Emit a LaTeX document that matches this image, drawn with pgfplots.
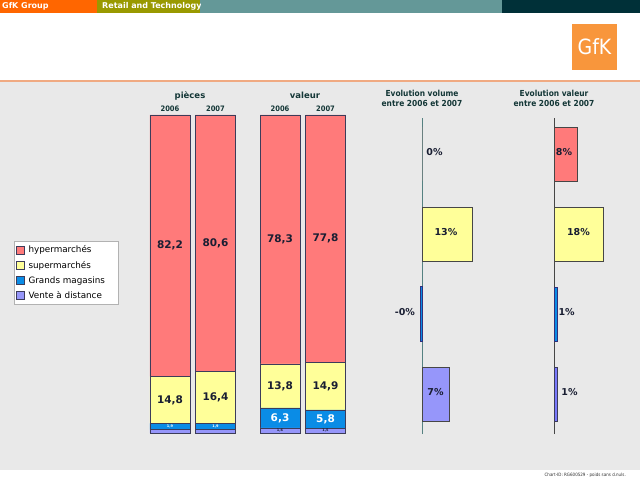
\documentclass[border=0pt]{standalone}
\usepackage{pgfplots}
\pgfplotsset{compat=1.18}
\usepackage{fontspec}
\setmainfont{DejaVu Sans}
\newfontfamily\condfont{DejaVu Sans Condensed}
\definecolor{hyper}{RGB}{255,122,122}
\definecolor{super}{RGB}{255,255,153}
\definecolor{grands}{RGB}{10,140,230}
\definecolor{vente}{RGB}{150,150,250}
\definecolor{bgray}{RGB}{233,233,233}
\definecolor{txt}{RGB}{25,30,50}
\definecolor{head}{RGB}{20,55,55}
\definecolor{edge}{RGB}{60,60,90}
\definecolor{eedge}{RGB}{70,70,70}
\definecolor{gorange}{RGB}{255,102,0}
\definecolor{golive}{RGB}{153,153,0}
\definecolor{gteal}{RGB}{100,152,152}
\definecolor{gdark}{RGB}{0,48,56}
\definecolor{logo}{RGB}{248,150,60}
\definecolor{oline}{RGB}{240,170,130}
\pgfplotsset{
  sqlegend/.style={legend image code/.code={\draw[##1] (0pt,-4pt) rectangle (8pt,4pt);}},
  stk/.style={at={(140pt,47pt)}, anchor=south west, scale only axis, width=220pt, height=318pt,
    xmin=-0.659, xmax=4.176, ymin=0, ymax=100, hide axis, clip=false},
  evo/.style={scale only axis, anchor=south west, width=120pt, height=316pt,
    ymin=-0.5, ymax=3.45, hide axis, clip=false},
  lbl/.style={only marks, mark=*, mark size=0pt, mark options={draw=none,fill=none},
    point meta=explicit symbolic, nodes near coords,
    every node near coord/.append style={anchor=center, inner sep=0pt, text=#1}},
}
\begin{document}
\begin{tikzpicture}[x=1pt,y=1pt]
\useasboundingbox (0,0) rectangle (640,480);
\fill[white] (0,0) rectangle (640,480);
\fill[bgray] (0,10) rectangle (640,398);
\draw[oline, line width=1.3pt] (0,399) -- (640,399);
% header band
\fill[gorange] (0,467) rectangle (97,480);
\fill[golive] (97,467) rectangle (200,480);
\fill[gteal] (200,467) rectangle (502,480);
\fill[gdark] (502,467) rectangle (640,480);
\node[anchor=west, text=white, font=\fontsize{8}{9}\selectfont\bfseries, inner sep=0pt] at (2,473.5) {GfK Group};
\begin{scope}
\clip (97,467) rectangle (200,480);
\node[anchor=west, text=white, font=\fontsize{8}{9}\selectfont\bfseries, inner sep=0pt] at (102,473.5) {Retail and Technology};
\end{scope}
% logo
\fill[logo] (572,410) rectangle (617,456);
\node[text=white, font=\condfont\fontsize{21}{22}\selectfont] at (594.5,433) {GfK};
% titles
\node[text=head, font=\fontsize{8.5}{9}\selectfont\bfseries] at (190,384.5) {pièces};
\node[text=head, font=\fontsize{8.5}{9}\selectfont\bfseries] at (305,384.5) {valeur};
\node[text=head, align=center, font=\condfont\fontsize{8.3}{10.5}\selectfont\bfseries] at (422,381.5) {Evolution volume\\entre 2006 et 2007};
\node[text=head, align=center, font=\condfont\fontsize{8.3}{10.5}\selectfont\bfseries] at (554,381.5) {Evolution valeur\\entre 2006 et 2007};
% footer
\node[anchor=east, text=black!80, font=\condfont\fontsize{4.5}{5}\selectfont, inner sep=0pt] at (626,5) {Chart-ID: RG600529 - poids sans d.nuls.};

% stacked bars
\begin{axis}[stk, ybar stacked, bar width=40pt, reverse legend,
  legend cell align=left,
  legend style={at={(-0.5727,0.6036)}, anchor=north west, draw=black!30, fill=white,
    font=\fontsize{8.8}{10}\selectfont, inner xsep=2pt, inner ysep=3pt, row sep=4pt,
    column sep=2.5pt, nodes={inner sep=1.4pt}}]
\addplot[fill=vente, draw=edge, sqlegend] coordinates {(0,1.1) (1,1.1) (2.418,1.6) (3.418,1.5)};
\addplot[fill=grands, draw=edge, sqlegend] coordinates {(0,1.9) (1,1.9) (2.418,6.3) (3.418,5.8)};
\addplot[fill=super, draw=edge, sqlegend] coordinates {(0,14.8) (1,16.4) (2.418,13.8) (3.418,14.9)};
\addplot[fill=hyper, draw=edge, sqlegend] coordinates {(0,82.2) (1,80.6) (2.418,78.3) (3.418,77.8)};
\legend{Vente à distance, Grands magasins\hspace*{10pt}, supermarchés, hypermarchés}
\end{axis}
% stacked labels
\begin{axis}[stk, xtick=\empty]
\addplot[lbl=txt, every node near coord/.append style={font=\fontsize{10.5}{11}\selectfont\bfseries}]
 table[meta=l, row sep=\\] {x y l\\ 0 58.9 82,2\\ 1 59.7 80,6\\ 2.418 60.85 78,3\\ 3.418 61.1 77,8\\
 0 10.4 14,8\\ 1 11.2 16,4\\ 2.418 14.8 13,8\\ 3.418 14.75 14,9\\};
\addplot[lbl=white, every node near coord/.append style={font=\fontsize{10.5}{11}\selectfont\bfseries}]
 table[meta=l, row sep=\\] {x y l\\ 2.418 4.75 6,3\\ 3.418 4.4 5,8\\};
\addplot[lbl=white, every node near coord/.append style={font=\fontsize{3.5}{4}\selectfont\bfseries}]
 table[meta=l, row sep=\\] {x y l\\ 0 2.05 1,9\\ 1 2.05 1,9\\};
\addplot[lbl=txt, every node near coord/.append style={font=\fontsize{3.5}{4}\selectfont\bfseries}]
 table[meta=l, row sep=\\] {x y l\\ 2.418 0.8 1,6\\ 3.418 0.75 1,5\\};
\addplot[lbl=head, every node near coord/.append style={font=\condfont\fontsize{7.5}{8}\selectfont\bfseries}]
 table[meta=l, row sep=\\] {x y l\\ 0 101.9 2006\\ 1 101.9 2007\\ 2.418 101.9 2006\\ 3.418 101.9 2007\\};
\end{axis}

% evolution volume
\begin{axis}[evo, at={(380pt,46pt)}, xmin=-11.15, xmax=20.34]
\draw[gteal!85!black, line width=0.8pt] (axis cs:0,-0.5) -- (axis cs:0,3.45);
\addplot[xbar, bar shift=0pt, bar width=54pt, fill=hyper, draw=none] coordinates {(0,3)};
\addplot[xbar, bar shift=0pt, bar width=54pt, fill=super, draw=eedge] coordinates {(13,2)};
\addplot[xbar, bar shift=0pt, bar width=54pt, fill=grands, draw=edge!80!blue, line width=1pt] coordinates {(-0.4,1)};
\addplot[xbar, bar shift=0pt, bar width=54pt, fill=vente, draw=eedge] coordinates {(7,0)};
\addplot[lbl=txt, every node near coord/.append style={font=\fontsize{9.5}{10}\selectfont\bfseries}]
 table[meta=l, row sep=\\] {x y l\\ 3.15 3.03 0\%\\ 6.17 2.03 13\%\\ -4.6 1.03 -0\%\\ 3.41 0.03 7\%\\};
\end{axis}

% evolution valeur
\begin{axis}[evo, at={(510pt,46pt)}, xmin=-16, xmax=27.64]
\draw[eedge, line width=0.8pt] (axis cs:0,-0.5) -- (axis cs:0,3.45);
\addplot[xbar, bar shift=0pt, bar width=54pt, fill=hyper, draw=eedge] coordinates {(8.4,3)};
\addplot[xbar, bar shift=0pt, bar width=54pt, fill=super, draw=eedge] coordinates {(18,2)};
\addplot[xbar, bar shift=0pt, bar width=54pt, fill=grands, draw=edge!80!blue] coordinates {(1,1)};
\addplot[xbar, bar shift=0pt, bar width=54pt, fill=vente!80!blue, draw=edge] coordinates {(1.3,0)};
\addplot[lbl=txt, every node near coord/.append style={font=\fontsize{9.5}{10}\selectfont\bfseries}]
 table[meta=l, row sep=\\] {x y l\\ 3.64 3.03 8\%\\ 8.9 2.03 18\%\\ 4.6 1.03 1\%\\ 5.64 0.03 1\%\\};
\end{axis}
\end{tikzpicture}
\end{document}
